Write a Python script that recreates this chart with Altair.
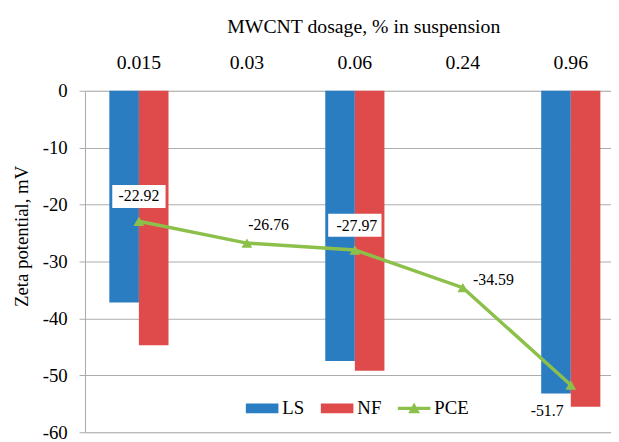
import altair as alt
import pandas as pd

categories = ["0.015", "0.03", "0.06", "0.24", "0.96"]
ls_values = [-37.2, None, -47.5, None, -53.2]
nf_values = [-44.7, None, -49.2, None, -55.5]
pce_values = [-22.92, -26.76, -27.97, -34.59, -51.7]
series_names = ["LS", "NF", "PCE"]
series_colors = ["#2A7DC1", "#DF4B4B", "#8CC04A"]

rows = []
for c, v in zip(categories, ls_values):
    if v is not None:
        rows.append({"dosage": c, "series": "LS", "value": v})
for c, v in zip(categories, nf_values):
    if v is not None:
        rows.append({"dosage": c, "series": "NF", "value": v})
bars_df = pd.DataFrame(rows)
pce_df = pd.DataFrame({"dosage": categories, "series": "PCE", "value": pce_values})

FONT = "Times New Roman, Liberation Serif, DejaVu Serif, serif"

color_scale = alt.Scale(domain=series_names, range=series_colors)
rect_path = "M-1,-0.3L1,-0.3L1,0.3L-1,0.3Z"
pce_path = "M-1,-0.1L1,-0.1L1,0.1L-1,0.1Z M-0.36,0.3L0,-0.36L0.36,0.3Z"
shape_scale = alt.Scale(domain=series_names, range=[rect_path, rect_path, pce_path])

legend = alt.Legend(
    title=None, orient="none", legendX=163, legendY=305, direction="horizontal",
    labelFont=FONT, labelFontSize=19, labelColor="#000000", labelOffset=4,
    columnPadding=16, symbolSize=1089, symbolStrokeWidth=0, symbolOpacity=1,
)

x_scale = alt.Scale(type="band", paddingInner=0.452, paddingOuter=0.162, align=0.696)
x_axis = alt.Axis(
    orient="top", title="MWCNT dosage, % in suspension", ticks=False, domain=False,
    labelAngle=0, labelPadding=23, labelBaseline="alphabetic",
    labelFont=FONT, labelFontSize=20, labelColor="#000000",
    titleFont=FONT, titleFontSize=20, titleFontWeight="normal", titleColor="#000000",
    titleX=282, titleY=-59, titleBaseline="alphabetic", titleAlign="center",
)
x_enc = alt.X("dosage:N", sort=categories, scale=x_scale, axis=x_axis)

y_enc = alt.Y(
    "value:Q",
    scale=alt.Scale(domain=[-60, 0], nice=False),
    axis=alt.Axis(
        values=[0, -10, -20, -30, -40, -50, -60], labelExpr="datum.value + ''",
        grid=True, gridColor="#ABABAB", domainColor="#ABABAB", tickColor="#ABABAB",
        tickSize=6, labelPadding=12, labelFont=FONT, labelFontSize=19, labelColor="#000000",
        title="Zeta potential, mV", titleFont=FONT, titleFontSize=19,
        titleFontWeight="normal", titleColor="#000000", titleAngle=270,
        titleX=-58, titleY=147, titleBaseline="alphabetic", titleAlign="center",
    ),
)

bars = alt.Chart(bars_df).mark_bar().encode(
    x=x_enc,
    xOffset=alt.XOffset("series:N", sort=["LS", "NF"]),
    y=y_enc,
    color=alt.Color("series:N", scale=color_scale, legend=legend),
)

line = alt.Chart(pce_df).mark_line(strokeWidth=3.5).encode(
    x=x_enc,
    y=y_enc,
    color=alt.Color("series:N", scale=color_scale, legend=legend),
)

points = alt.Chart(pce_df).mark_point(shape="triangle-up", filled=True, size=120, opacity=1).encode(
    x=x_enc,
    y=y_enc,
    color=alt.Color("series:N", scale=color_scale, legend=legend),
)

legend_dummy = alt.Chart(pce_df).mark_point(filled=True, opacity=1).encode(
    x=x_enc,
    y=y_enc,
    color=alt.Color("series:N", scale=color_scale, legend=legend),
    shape=alt.Shape("series:N", scale=shape_scale, legend=legend),
).transform_filter("false")

box_path = "M-1,-0.43L1,-0.43L1,0.43L-1,0.43Z"
boxes = alt.Chart(pce_df).mark_point(
    shape=box_path, size=2916, filled=True, color="white", opacity=1, yOffset=-25
).encode(
    x=x_enc,
    y=y_enc,
).transform_filter(alt.FieldOneOfPredicate(field="dosage", oneOf=["0.015", "0.06"]))

label_offsets = {"0.015": (0, -25), "0.03": (22, -18), "0.06": (2, -24), "0.24": (31, -8), "0.96": (-24, 26)}
texts = []
for cat in categories:
    dx, dy = label_offsets[cat]
    texts.append(
        alt.Chart(pce_df).mark_text(
            font=FONT, fontSize=16, color="#000000", dx=dx, dy=dy, baseline="middle", align="center"
        ).encode(
            x=x_enc,
            y=y_enc,
            text="label:N",
        ).transform_calculate(label="'' + datum.value").transform_filter(
            alt.FieldEqualPredicate(field="dosage", equal=cat)
        )
    )

chart = alt.layer(bars, line, points, legend_dummy, boxes, *texts).properties(
    width=533, height=346,
    autosize=alt.AutoSizeParams(type="none"),
    padding={"left": 78, "top": 81, "right": 0, "bottom": 8},
).configure_view(strokeWidth=0).configure(background="white")

chart.save("out.html", embed_options={"renderer": "svg", "actions": False})
